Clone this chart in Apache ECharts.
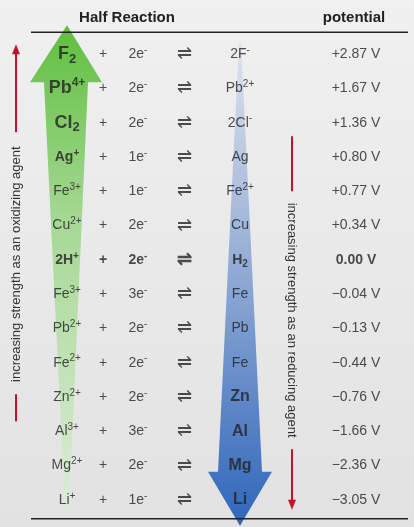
<!DOCTYPE html>
<html><head><meta charset="utf-8">
<script src="https://cdn.jsdelivr.net/npm/echarts@6/dist/echarts.min.js"></script>
<style>html,body{margin:0;padding:0;background:#e9e9e9}#c{width:414px;height:527px}</style>
</head><body><div id="c"></div>
<script>
var oxidized = ['F{sb|2}','Pb{sp|4+}','Cl{sb|2}','Ag{sp|+}','Fe{sp|3+}','Cu{sp|2+}','2H{sp|+}','Fe{sp|3+}','Pb{sp|2+}','Fe{sp|2+}','Zn{sp|2+}','Al{sp|3+}','Mg{sp|2+}','Li{sp|+}'];
var electrons = ['2e{sp|-}','2e{sp|-}','2e{sp|-}','1e{sp|-}','1e{sp|-}','2e{sp|-}','2e{sp|-}','3e{sp|-}','2e{sp|-}','2e{sp|-}','2e{sp|-}','3e{sp|-}','2e{sp|-}','1e{sp|-}'];
var reduced = ['2F{sp|-}','Pb{sp|2+}','2Cl{sp|-}','Ag','Fe{sp|2+}','Cu','H{sb|2}','Fe','Pb','Fe','Zn','Al','Mg','Li'];
var potentials = [2.87,1.67,1.36,0.80,0.77,0.34,0.00,-0.04,-0.13,-0.44,-0.76,-1.66,-2.36,-3.05];
var boldOx = [0,1,2,3,6], bigOx=[0,1,2], boldRed=[6,10,11,12,13];
var COLX = {ox:67, plus:103, e:138, eq:184, red:240, pot:356};
var rows = oxidized.map(function(_,i){return i;});
var font = 'Liberation Sans, Arial, sans-serif';
function fmtPot(v){ return (v>0?'+':(v<0?'\u2212':'')) + Math.abs(v).toFixed(2) + ' V'; }
function rich(size,bold){
  var w = bold?'bold':'normal';
  var lh = Math.round(size*1.3);
  return {
    n:{fontSize:size,fontWeight:w,color:'#222',fontFamily:font,lineHeight:lh,verticalAlign:'middle'},
    sb:{fontSize:Math.round(size*0.7),fontWeight:w,color:'#222',fontFamily:font,lineHeight:lh,verticalAlign:'bottom'},
    sp:{fontSize:Math.round(size*0.68),fontWeight:w,color:'#222',fontFamily:font,lineHeight:lh,verticalAlign:'top'}
  };
}
function toRich(s){ return s.replace(/^([^{]+)/,'{n|$1}').replace(/\}([^{}]+)\{/g,'}{n|$1}{'); }
function colSeries(name, x, texts, boldIdx, bigIdx){
  return {type:'scatter', name:name, symbolSize:0, z:5, silent:true,
    data: rows.map(function(i){
      var big = bigIdx && bigIdx.indexOf(i)>=0, bold = boldIdx && boldIdx.indexOf(i)>=0;
      var size = big?18:14;
      return {value:[x,i], label:{show:true, position:'inside', formatter: toRich(texts[i]), rich: rich(size,bold)}};
    })};
}
var chart = echarts.init(document.getElementById('c'));
var series = [
  colSeries('ox', COLX.ox, oxidized, boldOx, bigOx),
  colSeries('plus', COLX.plus, rows.map(function(){return '+';}), [6]),
  colSeries('e', COLX.e, electrons, [6]),
  colSeries('eq', COLX.eq, rows.map(function(){return '\u21CC';}), [6]),
  colSeries('red', COLX.red, reduced, boldRed),
  colSeries('pot', COLX.pot, potentials.map(fmtPot), [6])
];
series[3].data.forEach(function(d){d.label.rich.n.fontSize=18;});
series[4].data.forEach(function(d,i){ if(i>=10){ d.label.rich.n.fontSize=16; } });
chart.setOption({
  backgroundColor:{type:'linear',x:0,y:0,x2:0,y2:1,colorStops:[{offset:0,color:'#f0f0f0'},{offset:1,color:'#e2e2e2'}]},
  animation:false,
  grid:{left:0,right:0,top:37,bottom:10},
  xAxis:{type:'value',min:0,max:414,show:false},
  yAxis:{type:'category',data:rows,inverse:true,show:false},
  series:series
});
function P(x,row){ return chart.convertToPixel({gridIndex:0},[x,row]); }
var yTop = P(0,0)[1], yBot = P(0,13)[1];
var gx = COLX.ox, bx = COLX.red;
var g = [];
g.push({type:'polygon',z:1,shape:{points:[[gx,yTop-29],[gx+35,yTop+28],[gx+21,yTop+28],[gx+2,yBot+8],[gx-2,yBot+8],[gx-23,yTop+28],[gx-37,yTop+28]]},
  style:{fill:{type:'linear',x:0,y:0,x2:0,y2:1,colorStops:[{offset:0,color:'#5fbf3e'},{offset:0.4,color:'#a5d894'},{offset:1,color:'#dcecd6'}]}}});
var bh = yBot-28;
g.push({type:'polygon',z:1,shape:{points:[[bx-1,yTop-12],[bx+1,yTop-12],[bx+22,bh],[bx+32,bh],[bx,yBot+26],[bx-32,bh],[bx-22,bh]]},
  style:{fill:{type:'linear',x:0,y:0,x2:0,y2:1,colorStops:[{offset:0,color:'#dfe4ee'},{offset:0.4,color:'#9fb4d8'},{offset:1,color:'#2f66bb'}]}}});
g.push({type:'line',z:3,shape:{x1:31,y1:yTop-22,x2:408,y2:yTop-22},style:{stroke:'#222',lineWidth:1.5}});
g.push({type:'line',z:3,shape:{x1:31,y1:yBot+19,x2:408,y2:yBot+19},style:{stroke:'#222',lineWidth:1.5}});
g.push({type:'text',z:6,x:127,y:18,style:{text:'Half Reaction',font:'bold 15px '+font,fill:'#222',align:'center',verticalAlign:'middle'}});
g.push({type:'text',z:6,x:354,y:18,style:{text:'potential',font:'bold 15px '+font,fill:'#222',align:'center',verticalAlign:'middle'}});
var red='#c8102e';
g.push({type:'line',z:3,shape:{x1:16,y1:yTop-4,x2:16,y2:yTop+78},style:{stroke:red,lineWidth:2}});
g.push({type:'polygon',z:3,shape:{points:[[16,yTop-10],[12,yTop],[20,yTop]]},style:{fill:red}});
g.push({type:'line',z:3,shape:{x1:16,y1:yTop+340,x2:16,y2:yTop+367},style:{stroke:red,lineWidth:2}});
g.push({type:'text',z:6,x:16,y:yTop+210,rotation:Math.PI/2,style:{text:'increasing strength as an oxidizing agent',font:'13px '+font,fill:'#333',align:'center',verticalAlign:'middle'}});
g.push({type:'line',z:3,shape:{x1:292,y1:yTop+82,x2:292,y2:yTop+137},style:{stroke:red,lineWidth:2}});
g.push({type:'line',z:3,shape:{x1:292,y1:yTop+395,x2:292,y2:yBot+2},style:{stroke:red,lineWidth:2}});
g.push({type:'polygon',z:3,shape:{points:[[292,yBot+10],[288,yBot],[296,yBot]]},style:{fill:red}});
g.push({type:'text',z:6,x:292,y:yTop+266,rotation:-Math.PI/2,style:{text:'increasing strength as an reducing agent',font:'13px '+font,fill:'#333',align:'center',verticalAlign:'middle'}});
chart.setOption({graphic:{elements:g}});
</script></body></html>
